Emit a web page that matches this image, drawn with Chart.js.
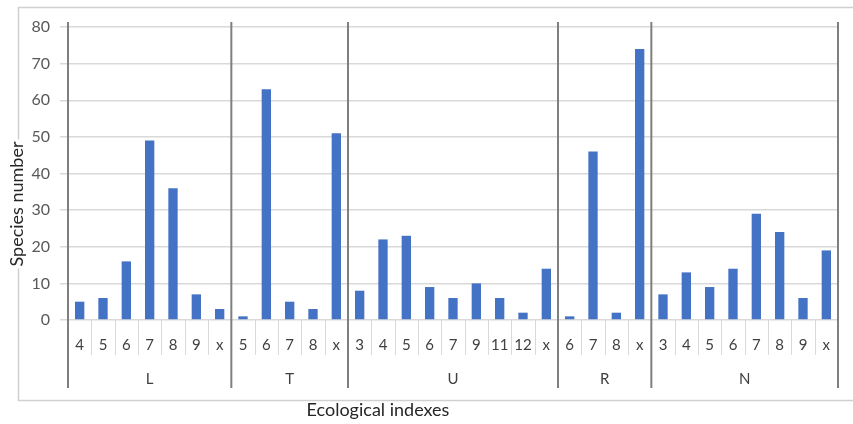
<!DOCTYPE html>
<html><head><meta charset="utf-8">
<script src="https://cdn.jsdelivr.net/npm/chart.js@4"></script>
<style>html,body{margin:0;padding:0;background:#fff}</style>
</head><body><canvas id="c" width="853" height="424"></canvas>
<script>
const groups = ['L','T','U','R','N'];
const groupCategories = [
  ['4','5','6','7','8','9','x'],
  ['5','6','7','8','x'],
  ['3','4','5','6','7','9','11','12','x'],
  ['6','7','8','x'],
  ['3','4','5','6','7','8','9','x']
];
const groupValues = [
  [5,6,16,49,36,7,3],
  [1,63,5,3,51],
  [8,22,23,9,6,10,6,2,14],
  [1,46,2,74],
  [7,13,9,14,29,24,6,19]
];
const yMax = 80;
const yStep = 10;
const yTitle = 'Species number';
const xTitle = 'Ecological indexes';

const labels = groupCategories.flat();
const values = groupValues.flat();
const FONT = 'Lato, "Open Sans", sans-serif';

const decor = {
  id: 'decor',
  beforeDraw(chart) {
    const ctx = chart.ctx;
    ctx.save();
    ctx.fillStyle = '#fff';
    ctx.fillRect(0, 0, chart.width, chart.height);
    ctx.strokeStyle = '#d0d0d0';
    ctx.lineWidth = 1.5;
    ctx.strokeRect(18.5, 7.5, 850, 393);
    ctx.restore();
  },
  afterDraw(chart) {
    const ctx = chart.ctx, x = chart.scales.x, y = chart.scales.y;
    const y0 = y.getPixelForValue(0);
    const yTop = y.getPixelForValue(yMax);
    const half = (x.getPixelForValue(1) - x.getPixelForValue(0)) / 2;
    ctx.save();
    ctx.textAlign = 'center';
    ctx.textBaseline = 'middle';
    let idx = 0;
    const bounds = [];
    groupCategories.forEach((cats, g) => {
      const start = idx;
      cats.forEach((c, k) => {
        const px = x.getPixelForValue(idx);
        ctx.fillStyle = '#404040';
        ctx.font = '15px ' + FONT;
        ctx.fillText(c, px, y0 + 25);
        if (k > 0) {
          ctx.strokeStyle = '#d9d9d9';
          ctx.lineWidth = 1;
          ctx.beginPath();
          ctx.moveTo(Math.round(px - half) + 0.5, y0);
          ctx.lineTo(Math.round(px - half) + 0.5, y0 + 35);
          ctx.stroke();
        }
        idx++;
      });
      const left = x.getPixelForValue(start) - half;
      const right = x.getPixelForValue(idx - 1) + half;
      ctx.fillStyle = '#404040';
      ctx.font = '15px ' + FONT;
      ctx.fillText(groups[g], (left + right) / 2, y0 + 59);
      bounds.push(left);
      if (g === groupCategories.length - 1) bounds.push(right);
    });
    ctx.strokeStyle = '#7f7f7f';
    ctx.lineWidth = 2;
    bounds.forEach(b => {
      ctx.beginPath();
      ctx.moveTo(b, yTop - 5);
      ctx.lineTo(b, y0 + 68);
      ctx.stroke();
    });
    // axis titles
    ctx.fillStyle = '#262626';
    ctx.font = '18px ' + FONT;
    ctx.fillText(xTitle, 378, 410);
    ctx.translate(17, 204);
    ctx.rotate(-Math.PI / 2);
    const w = ctx.measureText(yTitle).width;
    ctx.fillStyle = '#fff';
    ctx.fillRect(-w / 2 - 2, -10, w + 4, 20);
    ctx.fillStyle = '#262626';
    ctx.fillText(yTitle, 0, 0);
    ctx.restore();
  }
};

new Chart(document.getElementById('c'), {
  type: 'bar',
  data: {
    labels: labels,
    datasets: [{
      data: values,
      backgroundColor: '#4472C4',
      barPercentage: 0.4,
      categoryPercentage: 1.0
    }]
  },
  options: {
    responsive: false,
    devicePixelRatio: 1,
    animation: false,
    layout: { padding: { top: 27, right: 15, bottom: 104, left: 0 } },
    plugins: { legend: { display: false }, tooltip: { enabled: false } },
    scales: {
      x: { display: false, offset: true },
      y: {
        min: 0, max: yMax,
        afterFit(scale) { scale.width = 68; },
        ticks: { stepSize: yStep, color: '#595959', font: { size: 16, family: FONT }, padding: 10 },
        grid: { color: '#d9d9d9', lineWidth: 1.5, tickLength: 8, drawTicks: true },
        border: { display: false }
      }
    }
  },
  plugins: [decor]
});
</script>
</body></html>
